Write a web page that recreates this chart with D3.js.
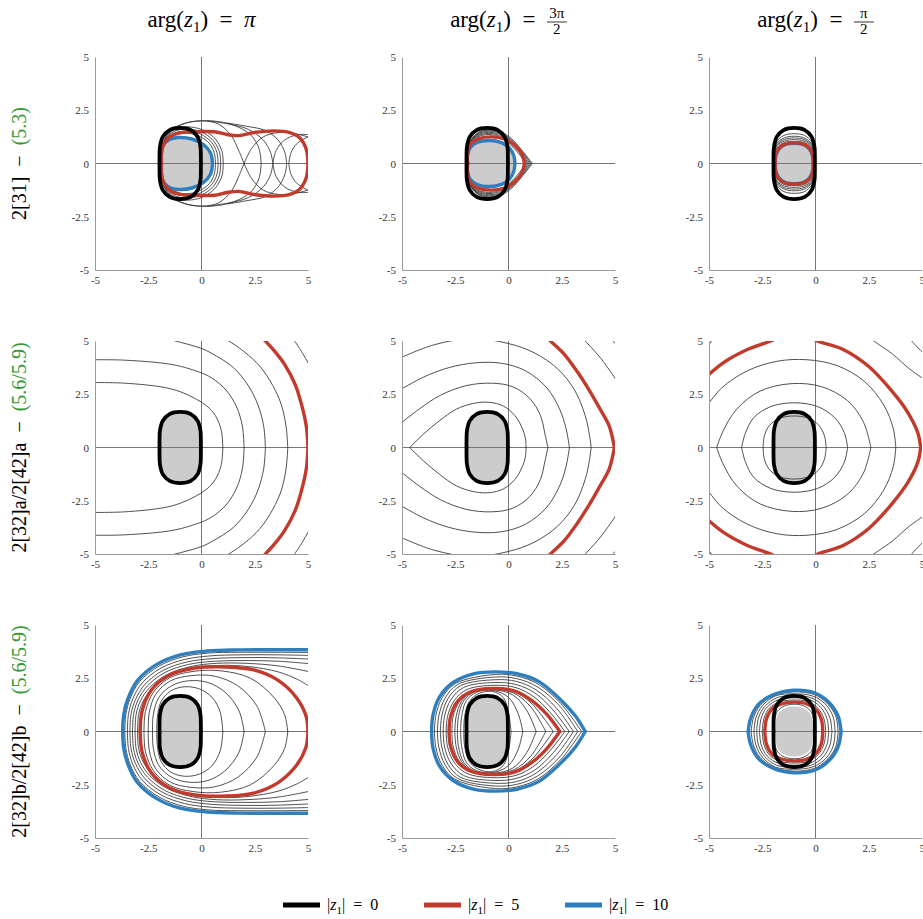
<!DOCTYPE html>
<html>
<head>
<meta charset="utf-8">
<script src="https://cdn.jsdelivr.net/npm/d3@7"></script>
<style>
  body { margin: 0; background: #fff; }
  svg { display: block; font-family: 'Liberation Serif', 'DejaVu Serif', serif; }
  text { font-family: 'Liberation Serif', 'DejaVu Serif', serif; }
</style>
</head>
<body>
<svg id="chart" width="923" height="919"></svg>
<script>
// ---- labels ----
const TICKS = [-5, -2.5, 0, 2.5, 5];
const COL_TITLES = [{ value: 'π' }, { num: '3π', den: '2' }, { num: 'π', den: '2' }];
const ROW_LABELS = [
    ['2[31]\u2002−\u2002', '(5.3)'],
    ['2[32]a/2[42]a\u2002−\u2002', '(5.6/5.9)'],
    ['2[32]b/2[42]b\u2002−\u2002', '(5.6/5.9)'],
];
const LEGEND_VALUES = ['0', '5', '10'];

// ---- curves: upper halves (y >= 0), mirrored for the lower half ----
// |z1| = 0 boundary, same in every panel
const stadium = [[-1.97, 0], [-1.97, 0.4], [-1.95, 0.8], [-1.82, 1.25], [-1.5, 1.57], [-1.0, 1.67], [-0.5, 1.57], [-0.18, 1.25], [-0.05, 0.8], [-0.03, 0.4], [-0.03, 0]];

// row 1, arg = pi
const r1c1Gray = [[-1.9, 0], [-1.9, 0.4], [-1.85, 0.8], [-1.6, 1.08], [-1.1, 1.2], [-0.5, 1.13], [0.05, 0.88], [0.38, 0.48], [0.48, 0]];
const r1c1Blue = [[[-1.88, 0], [-1.88, 0.4], [-1.82, 0.8], [-1.55, 1.1], [-1.05, 1.22], [-0.45, 1.15], [0.08, 0.9], [0.42, 0.5], [0.52, 0]]];
const r1c1Red = [[[-1.88, 0], [-1.88, 0.5], [-1.75, 0.95], [-1.45, 1.28], [-0.95, 1.45], [0, 1.5], [0.6, 1.49], [1.2, 1.36], [1.75, 1.31], [2.45, 1.45], [3.4, 1.53], [4.15, 1.45], [4.62, 1.2], [4.92, 0.66], [5.0, 0]]];
const r1c1Thin = [
    [[-1.9, 0], [-1.9, 0.5], [-1.7, 1.05], [-1.3, 1.33], [-0.7, 1.42], [-0.1, 1.28], [0.38, 0.93], [0.6, 0.5], [0.66, 0]],
    [[-1.9, 0], [-1.9, 0.5], [-1.7, 1.1], [-1.3, 1.42], [-0.7, 1.52], [-0.05, 1.38], [0.47, 1.0], [0.72, 0.52], [0.78, 0]],
    [[-1.9, 0], [-1.9, 0.5], [-1.7, 1.15], [-1.3, 1.5], [-0.7, 1.62], [0, 1.48], [0.55, 1.08], [0.84, 0.55], [0.9, 0]],
    [[-1.9, 0], [-1.9, 0.5], [-1.7, 1.2], [-1.3, 1.58], [-0.7, 1.72], [0.05, 1.58], [0.65, 1.15], [0.96, 0.58], [1.02, 0]],
    [[-1.9, 0], [-1.9, 0.6], [-1.6, 1.35], [-0.9, 1.85], [0, 2.0], [0.8, 1.85], [1.4, 1.3], [1.75, 0.6], [2.0, 0]],
    [[2.0, 0], [2.35, 0.7], [2.9, 1.25], [3.6, 1.45], [4.3, 1.42], [5.1, 1.22]],
    [[-1.5, 1.62], [-0.5, 1.95], [0.5, 2.0], [1.5, 1.8], [2.3, 1.35], [2.7, 0.7], [2.8, 0]],
    [[0.3, 2.0], [1.3, 1.85], [2.2, 1.6], [2.9, 1.1], [3.25, 0.5], [3.35, 0]],
    [[1.2, 1.9], [2.1, 1.75], [3.0, 1.55], [3.6, 1.1], [3.92, 0.5], [4.0, 0]],
    [[3.35, 0], [3.5, 0.6], [3.9, 1.1], [4.5, 1.35], [5.1, 1.35]],
    [[4.1, 0], [4.2, 0.5], [4.5, 0.95], [5.1, 1.3]],
];

// row 1, arg = 3pi/2
const r1c2Gray = [[-1.92, 0], [-1.92, 0.4], [-1.8, 0.72], [-1.45, 0.98], [-0.9, 1.06], [-0.35, 0.95], [0.0, 0.7], [0.18, 0.35], [0.22, 0]];
const r1c2Blue = [[[-1.92, 0], [-1.92, 0.4], [-1.8, 0.74], [-1.45, 1.0], [-0.9, 1.08], [-0.33, 0.98], [0.05, 0.72], [0.25, 0.36], [0.3, 0]]];
const r1c2Red = [[[-1.92, 0], [-1.92, 0.5], [-1.75, 0.95], [-1.35, 1.18], [-0.8, 1.25], [-0.2, 1.15], [0.3, 0.85], [0.62, 0.45], [0.75, 0]]];
const r1c2Thin = [
    [[-1.92, 0], [-1.92, 0.55], [-1.72, 1.05], [-1.25, 1.32], [-0.6, 1.32], [-0.05, 1.0], [0.45, 0.5], [0.82, 0]],
    [[-1.92, 0], [-1.92, 0.55], [-1.72, 1.08], [-1.25, 1.37], [-0.58, 1.37], [0.0, 1.04], [0.5, 0.54], [0.88, 0]],
    [[-1.92, 0], [-1.92, 0.56], [-1.72, 1.11], [-1.24, 1.42], [-0.56, 1.42], [0.03, 1.08], [0.53, 0.57], [0.94, 0]],
    [[-1.92, 0], [-1.92, 0.57], [-1.71, 1.14], [-1.23, 1.47], [-0.54, 1.47], [0.06, 1.12], [0.56, 0.6], [1.0, 0]],
    [[-1.92, 0], [-1.92, 0.58], [-1.7, 1.17], [-1.22, 1.52], [-0.52, 1.51], [0.08, 1.16], [0.58, 0.63], [1.06, 0]],
    [[-1.92, 0], [-1.92, 0.6], [-1.7, 1.2], [-1.2, 1.56], [-0.5, 1.55], [0.1, 1.2], [0.6, 0.66], [1.12, 0]],
];

// row 1, arg = pi/2
const r1c3Gray = [[-1.88, 0], [-1.86, 0.35], [-1.72, 0.66], [-1.42, 0.87], [-1.0, 0.93], [-0.58, 0.87], [-0.28, 0.66], [-0.14, 0.35], [-0.12, 0]];
const r1c3Blue = [[[-1.88, 0], [-1.86, 0.35], [-1.72, 0.67], [-1.42, 0.89], [-1.0, 0.95], [-0.58, 0.89], [-0.28, 0.67], [-0.14, 0.35], [-0.12, 0]]];
const r1c3Red = [[[-1.9, 0], [-1.88, 0.36], [-1.74, 0.69], [-1.43, 0.91], [-1.0, 0.97], [-0.57, 0.91], [-0.26, 0.69], [-0.12, 0.36], [-0.1, 0]]];
const r1c3Thin = [
    [[-1.92, 0], [-1.91, 0.42], [-1.78, 0.78], [-1.45, 0.99], [-1.0, 1.04], [-0.55, 0.99], [-0.22, 0.78], [-0.09, 0.42], [-0.08, 0]],
    [[-1.93, 0], [-1.92, 0.45], [-1.8, 0.84], [-1.45, 1.06], [-1.0, 1.12], [-0.55, 1.06], [-0.2, 0.84], [-0.07, 0.45], [-0.06, 0]],
    [[-1.93, 0], [-1.93, 0.48], [-1.81, 0.88], [-1.46, 1.13], [-1.0, 1.2], [-0.54, 1.13], [-0.19, 0.88], [-0.06, 0.48], [-0.05, 0]],
    [[-1.94, 0], [-1.94, 0.5], [-1.82, 0.93], [-1.47, 1.2], [-1.0, 1.28], [-0.53, 1.2], [-0.18, 0.93], [-0.05, 0.5], [-0.04, 0]],
    [[-1.95, 0], [-1.95, 0.52], [-1.83, 1.0], [-1.48, 1.32], [-1.0, 1.4], [-0.52, 1.32], [-0.17, 1.0], [-0.04, 0.52], [-0.03, 0]],
];

// row 2, arg = pi
const r2c1Red = [[[5.0, 0], [4.92, 1.0], [4.7, 2.0], [4.4, 2.95], [3.9, 3.9], [3.45, 4.5], [2.95, 5.05], [2.8, 5.2]]];
const r2c1Thin = [
    [[1.0, 0], [0.93, 0.8], [0.65, 1.5], [0.25, 1.95], [-0.3, 2.3], [-1.0, 2.62], [-1.8, 2.83], [-3.6, 3.02], [-5.1, 3.05]],
    [[2.0, 0], [1.92, 1.0], [1.65, 1.9], [1.15, 2.7], [0.5, 3.25], [0, 3.5], [-1.3, 3.88], [-3.6, 4.1], [-5.1, 4.12]],
    [[3.0, 0], [2.92, 1.0], [2.65, 2.0], [2.2, 2.9], [1.5, 3.75], [0.6, 4.35], [0, 4.65], [-1.3, 5.02], [-2.0, 5.2]],
    [[4.05, 0], [3.97, 1.0], [3.75, 2.0], [3.35, 2.9], [2.75, 3.8], [2.0, 4.5], [1.2, 5.05], [0.9, 5.2]],
    [[5.1, 3.8], [4.7, 4.5], [4.33, 5.05], [4.2, 5.2]],
];

// row 2, arg = 3pi/2
const r2c2Red = [[[1.8, 5.2], [1.92, 5.05], [2.6, 4.4], [3.2, 3.6], [3.8, 2.67], [4.3, 1.8], [4.73, 1.0], [4.97, 0]]];
const r2c2Thin = [
    [[-4.64, 0], [-4.0, 0.62], [-3.25, 1.25], [-2.45, 1.8], [-1.6, 2.08], [-0.9, 2.12], [-0.25, 1.95], [0.3, 1.5], [0.65, 0.9], [0.8, 0.4], [0.82, 0]],
    [[-5.1, 1.1], [-4.2, 1.8], [-3.2, 2.45], [-2.0, 2.9], [-0.8, 3.02], [0.2, 2.85], [1.0, 2.3], [1.5, 1.5], [1.72, 0.6], [1.85, 0]],
    [[-5.1, 2.7], [-4.0, 3.3], [-2.8, 3.75], [-1.5, 3.98], [-0.3, 3.95], [0.8, 3.6], [1.8, 2.8], [2.4, 1.8], [2.7, 0.9], [2.86, 0]],
    [[-5.1, 4.2], [-3.5, 4.82], [-1.7, 5.12], [0, 4.88], [1.2, 4.45], [2.3, 3.7], [3.1, 2.7], [3.6, 1.5], [3.8, 0.6], [3.88, 0]],
    [[3.45, 5.2], [3.56, 5.05], [4.2, 4.35], [4.8, 3.55], [5.1, 3.1]],
    [[4.75, 5.2], [4.85, 5.05], [5.1, 4.8]],
];

// row 2, arg = pi/2
const r2c3Red = [
    [[-5.1, 3.35], [-4.3, 4.0], [-3.2, 4.6], [-2.0, 5.05], [-1.8, 5.2]],
    [[-0.1, 5.2], [0, 5.05], [1.3, 4.6], [2.5, 3.8], [3.5, 2.75], [4.3, 1.7], [4.8, 0.7], [4.94, 0]],
];
const r2c3Thin = [
    [[-2.46, 0], [-2.4, 0.55], [-2.15, 1.05], [-1.65, 1.38], [-1.0, 1.48], [-0.35, 1.38], [0.15, 1.05], [0.42, 0.55], [0.5, 0]],
    [[-3.47, 0], [-3.3, 0.65], [-2.9, 1.4], [-2.1, 1.92], [-1.0, 2.1], [0.1, 1.92], [0.9, 1.4], [1.35, 0.7], [1.51, 0]],
    [[-4.64, 0], [-4.35, 0.75], [-3.7, 1.8], [-2.6, 2.65], [-1.1, 3.0], [0.3, 2.85], [1.5, 2.2], [2.25, 1.2], [2.6, 0]],
    [[-5.1, 1.95], [-4.4, 2.8], [-3.2, 3.6], [-1.8, 4.05], [-0.4, 4.12], [1.0, 3.85], [2.3, 3.1], [3.2, 2.0], [3.65, 0.9], [3.77, 0]],
    [[2.55, 5.2], [2.68, 5.05], [3.6, 4.4], [4.4, 3.7], [5.1, 3.2]],
    [[4.35, 5.2], [4.47, 5.05], [4.94, 4.55], [5.1, 4.4]],
    [[-5.1, 4.7], [-4.85, 5.05], [-4.75, 5.2]],
];

// row 3, arg = pi
const r3c1Blue = [[[-3.7, 0], [-3.65, 0.8], [-3.45, 1.55], [-3.0, 2.4], [-2.1, 3.15], [-1.0, 3.6], [0.25, 3.78], [1.8, 3.83], [3.5, 3.84], [5.1, 3.84]]];
const r3c1Red = [[[-2.88, 0], [-2.78, 1.0], [-2.35, 1.95], [-1.5, 2.65], [-0.3, 2.98], [1.2, 3.03], [2.5, 2.88], [3.6, 2.4], [4.45, 1.6], [4.9, 0.75], [5.0, 0]]];
const r3c1Thin = [
    [[-3.6, 0], [-3.55, 0.8], [-3.35, 1.55], [-2.9, 2.35], [-2.0, 3.07], [-0.9, 3.5], [0.3, 3.68], [1.8, 3.72], [3.5, 3.72], [5.1, 3.71]],
    [[-3.48, 0], [-3.43, 0.8], [-3.22, 1.55], [-2.77, 2.3], [-1.9, 2.98], [-0.8, 3.38], [0.4, 3.55], [1.9, 3.6], [3.5, 3.6], [5.1, 3.57]],
    [[-3.36, 0], [-3.31, 0.8], [-3.1, 1.5], [-2.65, 2.22], [-1.8, 2.87], [-0.7, 3.26], [0.5, 3.42], [2.0, 3.47], [3.5, 3.46], [5.1, 3.4]],
    [[-3.24, 0], [-3.19, 0.8], [-2.98, 1.48], [-2.53, 2.15], [-1.7, 2.78], [-0.6, 3.15], [0.6, 3.3], [2.0, 3.33], [3.6, 3.3], [5.1, 3.18]],
    [[-3.12, 0], [-3.07, 0.8], [-2.86, 1.45], [-2.42, 2.08], [-1.6, 2.68], [-0.5, 3.05], [0.7, 3.2], [2.1, 3.2], [3.6, 3.08], [5.1, 2.8]],
    [[-3.0, 0], [-2.95, 0.8], [-2.74, 1.42], [-2.3, 2.02], [-1.5, 2.6], [-0.4, 2.95], [0.8, 3.1], [2.2, 3.05], [3.6, 2.8], [4.5, 2.45], [5.1, 2.1]],
    [[-2.1, 0], [-2.07, 0.7], [-1.9, 1.4], [-1.45, 1.9], [-0.8, 2.1], [-0.1, 2.0], [0.5, 1.6], [0.88, 0.9], [1.0, 0]],
    [[-2.3, 0], [-2.26, 0.8], [-2.0, 1.6], [-1.4, 2.15], [-0.6, 2.38], [0.3, 2.3], [1.1, 1.85], [1.75, 1.0], [2.0, 0]],
    [[-2.5, 0], [-2.45, 0.9], [-2.15, 1.75], [-1.45, 2.38], [-0.5, 2.62], [0.6, 2.6], [1.7, 2.15], [2.6, 1.2], [3.0, 0]],
    [[-2.7, 0], [-2.63, 0.95], [-2.25, 1.85], [-1.5, 2.52], [-0.4, 2.82], [0.9, 2.85], [2.3, 2.5], [3.4, 1.6], [3.9, 0.8], [4.05, 0]],
];

// row 3, arg = 3pi/2
const r3c2Blue = [[[-3.61, 0], [-3.55, 0.75], [-3.25, 1.6], [-2.6, 2.3], [-1.6, 2.72], [-0.6, 2.8], [0.4, 2.71], [1.45, 2.33], [2.54, 1.4], [3.16, 0.7], [3.6, 0]]];
const r3c2Red = [[[-2.79, 0], [-2.72, 0.7], [-2.4, 1.4], [-1.8, 1.85], [-0.73, 2.02], [0.3, 1.9], [1.1, 1.45], [1.8, 0.8], [2.41, 0]]];
const r3c2Thin = [
    [[-2.93, 0], [-2.86, 0.72], [-2.55, 1.45], [-1.95, 1.97], [-0.68, 2.17], [0.35, 2.06], [1.2, 1.62], [1.95, 0.9], [2.65, 0]],
    [[-3.07, 0], [-3.0, 0.73], [-2.7, 1.5], [-2.1, 2.07], [-0.66, 2.3], [0.37, 2.2], [1.25, 1.8], [2.1, 1.0], [2.85, 0]],
    [[-3.2, 0], [-3.13, 0.74], [-2.85, 1.53], [-2.25, 2.15], [-0.64, 2.43], [0.38, 2.35], [1.3, 1.95], [2.25, 1.1], [3.05, 0]],
    [[-3.34, 0], [-3.27, 0.74], [-2.98, 1.56], [-2.4, 2.2], [-0.62, 2.56], [0.39, 2.48], [1.35, 2.1], [2.4, 1.2], [3.25, 0]],
    [[-3.48, 0], [-3.41, 0.75], [-3.12, 1.58], [-2.5, 2.25], [-0.6, 2.68], [0.4, 2.6], [1.4, 2.22], [2.47, 1.3], [3.43, 0]],
    [[-2.1, 0], [-2.06, 0.7], [-1.85, 1.4], [-1.4, 1.78], [-0.75, 1.88], [-0.25, 1.6], [0.0, 0.9], [0.12, 0]],
    [[-2.25, 0], [-2.2, 0.7], [-1.98, 1.45], [-1.5, 1.84], [-0.74, 1.93], [0.0, 1.6], [0.45, 0.85], [0.67, 0]],
    [[-2.4, 0], [-2.35, 0.7], [-2.1, 1.45], [-1.6, 1.86], [-0.74, 1.96], [0.2, 1.72], [0.85, 1.0], [1.3, 0]],
    [[-2.52, 0], [-2.46, 0.7], [-2.2, 1.42], [-1.68, 1.88], [-0.73, 1.98], [0.25, 1.8], [1.05, 1.15], [1.75, 0]],
    [[-2.66, 0], [-2.6, 0.7], [-2.3, 1.41], [-1.74, 1.86], [-0.73, 2.0], [0.28, 1.86], [1.1, 1.3], [2.1, 0]],
];

// row 3, arg = pi/2
const r3c3Gray = [[-1.88, 0], [-1.86, 0.5], [-1.72, 0.88], [-1.4, 1.1], [-1.0, 1.17], [-0.6, 1.1], [-0.28, 0.88], [-0.14, 0.5], [-0.1, 0]];
const r3c3Blue = [[[-3.16, 0], [-3.05, 0.6], [-2.7, 1.25], [-2.0, 1.72], [-1.0, 1.94], [-0.05, 1.82], [0.6, 1.4], [1.05, 0.75], [1.2, 0]]];
const r3c3Red = [[[-2.38, 0], [-2.3, 0.6], [-2.05, 1.05], [-1.6, 1.3], [-1.0, 1.38], [-0.4, 1.3], [0.05, 1.0], [0.28, 0.55], [0.34, 0]]];
const r3c3Thin = [
    [[-1.95, 0], [-1.93, 0.5], [-1.78, 0.95], [-1.45, 1.2], [-1.0, 1.28], [-0.55, 1.2], [-0.22, 0.95], [-0.08, 0.5], [-0.05, 0]],
    [[-2.5, 0], [-2.42, 0.62], [-2.15, 1.12], [-1.65, 1.4], [-1.0, 1.48], [-0.35, 1.4], [0.13, 1.08], [0.4, 0.58], [0.48, 0]],
    [[-2.63, 0], [-2.55, 0.63], [-2.27, 1.15], [-1.72, 1.5], [-1.0, 1.58], [-0.28, 1.5], [0.25, 1.13], [0.54, 0.6], [0.62, 0]],
    [[-2.76, 0], [-2.68, 0.63], [-2.38, 1.18], [-1.8, 1.59], [-1.0, 1.68], [-0.2, 1.58], [0.36, 1.2], [0.68, 0.63], [0.77, 0]],
    [[-2.89, 0], [-2.8, 0.63], [-2.5, 1.2], [-1.88, 1.67], [-1.0, 1.77], [-0.12, 1.66], [0.48, 1.27], [0.83, 0.68], [0.92, 0]],
    [[-3.02, 0], [-2.92, 0.62], [-2.6, 1.22], [-1.95, 1.7], [-1.0, 1.86], [-0.08, 1.74], [0.54, 1.33], [0.95, 0.72], [1.06, 0]],
];

const PANELS = [
    [
        { gray: r1c1Gray, thin: r1c1Thin, red: r1c1Red, blue: r1c1Blue },
        { gray: r1c2Gray, thin: r1c2Thin, red: r1c2Red, blue: r1c2Blue },
        { gray: r1c3Gray, thin: r1c3Thin, red: r1c3Red, blue: r1c3Blue },
    ],
    [
        { gray: stadium, thin: r2c1Thin, red: r2c1Red, blue: [] },
        { gray: stadium, thin: r2c2Thin, red: r2c2Red, blue: [] },
        { gray: stadium, thin: r2c3Thin, red: r2c3Red, blue: [] },
    ],
    [
        { gray: stadium, thin: r3c1Thin, red: r3c1Red, blue: r3c1Blue },
        { gray: stadium, thin: r3c2Thin, red: r3c2Red, blue: r3c2Blue },
        { gray: r3c3Gray, thin: r3c3Thin, red: r3c3Red, blue: r3c3Blue },
    ],
];

// ---- layout / style ----
const SIZE = 213;
const COL_X = [95, 402, 709];
const ROW_Y = [57, 341, 625];
const FONT = "'Liberation Serif', 'DejaVu Serif', serif";
const COLORS = { black: '#000000', red: '#c23a2c', blue: '#2f7fbf', thin: '#3c3c3c', fill: '#cccccc', green: '#339933' };

const svg = d3.select('#chart');
const defs = svg.append('defs');

const x = d3.scaleLinear().domain([-5, 5]).range([0, SIZE]);
const y = d3.scaleLinear().domain([-5, 5]).range([SIZE, 0]);
const line = d3.line().x((d) => x(d[0])).y((d) => y(d[1])).curve(d3.curveCatmullRom.alpha(0.5));
const closedLine = d3.line().x((d) => x(d[0])).y((d) => y(d[1])).curve(d3.curveCatmullRomClosed.alpha(0.5));
const mirror = (pts) => pts.map((p) => [p[0], -p[1]]);

function drawHalves(g, pts, color, width) {
    [pts, mirror(pts)].forEach((half) => {
        g.append('path')
            .attr('d', line(half))
            .attr('fill', 'none')
            .attr('stroke', color)
            .attr('stroke-width', width)
            .attr('stroke-linejoin', 'round')
            .attr('stroke-linecap', 'round');
    });
}

function drawPanel(r, c, panel) {
    const g = svg.append('g').attr('transform', `translate(${COL_X[c]},${ROW_Y[r]})`);
    const clipId = `clip-${r}-${c}`;
    defs.append('clipPath').attr('id', clipId)
        .append('rect').attr('x', 0).attr('y', 0).attr('width', SIZE).attr('height', SIZE);
    const plot = g.append('g').attr('clip-path', `url(#${clipId})`);

    // shaded region
    const closed = panel.gray.concat(mirror(panel.gray).reverse().slice(1, -1));
    plot.append('path').attr('d', closedLine(closed)).attr('fill', COLORS.fill);

    // lines through the origin
    plot.append('line').attr('x1', x(0)).attr('x2', x(0)).attr('y1', 0).attr('y2', SIZE)
        .attr('stroke', '#777').attr('stroke-width', 1);
    plot.append('line').attr('x1', 0).attr('x2', SIZE).attr('y1', y(0)).attr('y2', y(0))
        .attr('stroke', '#777').attr('stroke-width', 1);

    panel.thin.forEach((pts) => drawHalves(plot, pts, COLORS.thin, 0.9));
    panel.blue.forEach((pts) => drawHalves(plot, pts, COLORS.blue, 3.4));
    panel.red.forEach((pts) => drawHalves(plot, pts, COLORS.red, 3.4));
    drawHalves(plot, stadium, COLORS.black, 3.8);

    const styleAxis = (sel) => {
        sel.attr('font-family', FONT).attr('font-size', 11);
        sel.select('.domain').attr('stroke', '#9a9a9a');
        sel.selectAll('text').attr('fill', '#333');
    };
    g.append('g')
        .call(d3.axisLeft(y).tickValues(TICKS).tickSize(0).tickPadding(6).tickFormat((d) => d))
        .call(styleAxis);
    g.append('g')
        .attr('transform', `translate(0,${SIZE})`)
        .call(d3.axisBottom(x).tickValues(TICKS).tickSize(0).tickPadding(6).tickFormat((d) => d))
        .call(styleAxis);
}

PANELS.forEach((row, r) => row.forEach((panel, c) => drawPanel(r, c, panel)));

// ---- column titles ----
function addZ1(text, size, subSize) {
    text.append('tspan').attr('font-style', 'italic').text('z');
    text.append('tspan').attr('font-size', subSize).attr('dy', size * 0.22).text('1');
    return text.append('tspan').attr('dy', -size * 0.22);
}

COL_TITLES.forEach((t, c) => {
    const cx = COL_X[c] + SIZE / 2;
    const g = svg.append('g').attr('font-family', FONT);
    const text = g.append('text').attr('x', 0).attr('y', 27).attr('font-size', 23)
        .attr('xml:space', 'preserve');
    text.append('tspan').text('arg(');
    addZ1(text, 23, 15).text(')\u2002=\u2002');
    let total;
    if (t.value) {
        text.append('tspan').attr('font-style', 'italic').text(t.value);
        total = text.node().getComputedTextLength();
    } else {
        const w = text.node().getComputedTextLength();
        const fx = w + 10;
        g.append('text').attr('x', fx).attr('y', 18).attr('text-anchor', 'middle')
            .attr('font-size', 15).text(t.num);
        g.append('line').attr('x1', fx - 10).attr('x2', fx + 10).attr('y1', 22).attr('y2', 22)
            .attr('stroke', '#000').attr('stroke-width', 0.8);
        g.append('text').attr('x', fx).attr('y', 34).attr('text-anchor', 'middle')
            .attr('font-size', 15).text(t.den);
        total = w + 20;
    }
    g.attr('transform', `translate(${cx - total / 2},0)`);
});

// ---- row labels ----
ROW_LABELS.forEach((parts, r) => {
    const cy = ROW_Y[r] + SIZE / 2;
    const text = svg.append('text')
        .attr('transform', `translate(26,${cy}) rotate(-90)`)
        .attr('text-anchor', 'middle')
        .attr('font-family', FONT)
        .attr('font-size', 20);
    text.append('tspan').attr('fill', '#000').text(parts[0]);
    text.append('tspan').attr('fill', COLORS.green).text(parts[1]);
});

// ---- legend ----
const legendItems = [
    { color: COLORS.black, value: LEGEND_VALUES[0], x: 283 },
    { color: COLORS.red, value: LEGEND_VALUES[1], x: 424 },
    { color: COLORS.blue, value: LEGEND_VALUES[2], x: 565 },
];
legendItems.forEach((item) => {
    svg.append('line')
        .attr('x1', item.x).attr('x2', item.x + 37)
        .attr('y1', 905).attr('y2', 905)
        .attr('stroke', item.color).attr('stroke-width', 5);
    const text = svg.append('text').attr('x', item.x + 44).attr('y', 910)
        .attr('font-family', FONT).attr('font-size', 16);
    text.append('tspan').text('|');
    addZ1(text, 16, 11).text(`|\u2002=\u2002${item.value}`);
});
</script>
</body>
</html>
